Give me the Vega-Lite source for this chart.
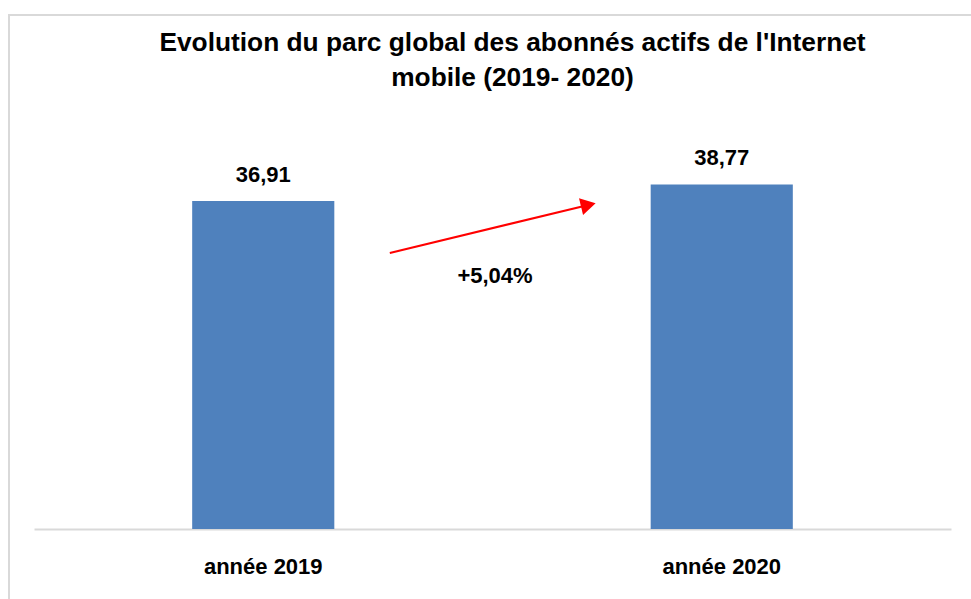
{
  "$schema": "https://vega.github.io/schema/vega-lite/v6.json",
  "width": 1007,
  "height": 600,
  "autosize": {"type": "none"},
  "padding": {"left": 9, "top": 15, "right": 0, "bottom": 0},
  "background": "white",
  "title": {
    "text": ["Evolution du parc global des abonnés actifs de l'Internet", "mobile (2019- 2020)"],
    "font": "Liberation Sans",
    "fontSize": 26.3,
    "fontWeight": "bold",
    "color": "#000000",
    "anchor": "middle",
    "frame": "group",
    "lineHeight": 35,
    "offset": -76
  },
  "datasets": {
    "bars": [
      {"annee": "année 2019", "valeur": 36.91, "label": "36,91"},
      {"annee": "année 2020", "valeur": 38.77, "label": "38,77"}
    ],
    "arrow": [
      {"x": 0.776, "y": 31.05},
      {"x": 1.209, "y": 36.46}
    ],
    "head": [
      {"x": 1.209, "y": 36.46}
    ],
    "note": [
      {"x": 1.0055, "y": 28.46, "texte": "+5,04%"}
    ]
  },
  "layer": [
    {
      "data": {"name": "bars"},
      "encoding": {
        "x": {
          "field": "annee",
          "type": "nominal",
          "sort": null,
          "title": null,
          "scale": {"range": [25, 942], "paddingInner": 0.69, "paddingOuter": 0.345},
          "axis": {
            "labelAngle": 0,
            "labelFont": "Liberation Sans",
            "labelFontSize": 22,
            "labelFontWeight": "bold",
            "labelColor": "#000000",
            "labelBaseline": "alphabetic",
            "labelPadding": 44,
            "labelLimit": 400,
            "ticks": false,
            "tickSize": 0,
            "domainColor": "#d9d9d9",
            "domainWidth": 2,
            "offset": -86,
            "grid": false
          }
        },
        "y": {
          "field": "valeur",
          "type": "quantitative",
          "scale": {"domain": [0, 45], "range": [514, 114]},
          "axis": null
        }
      },
      "layer": [
        {"mark": {"type": "bar", "color": "#4F81BD"}},
        {
          "mark": {
            "type": "text",
            "font": "Liberation Sans",
            "fontSize": 22,
            "fontWeight": "bold",
            "color": "#000000",
            "baseline": "alphabetic",
            "dy": -19
          },
          "encoding": {"text": {"field": "label", "type": "nominal"}}
        }
      ]
    },
    {
      "layer": [
        {
          "data": {"name": "arrow"},
          "mark": {"type": "line", "color": "#FF0000", "strokeWidth": 2},
          "encoding": {
            "x": {"field": "x", "type": "quantitative", "scale": {"domain": [0, 2], "range": [25, 942]}, "axis": null},
            "y": {"field": "y", "type": "quantitative"}
          }
        },
        {
          "data": {"name": "head"},
          "mark": {"type": "point", "shape": "triangle-right", "angle": -13.6, "size": 300, "filled": true, "color": "#FF0000", "opacity": 1},
          "encoding": {
            "x": {"field": "x", "type": "quantitative"},
            "y": {"field": "y", "type": "quantitative"}
          }
        },
        {
          "data": {"name": "note"},
          "mark": {
            "type": "text",
            "font": "Liberation Sans",
            "fontSize": 22,
            "fontWeight": "bold",
            "color": "#000000",
            "baseline": "middle"
          },
          "encoding": {
            "x": {"field": "x", "type": "quantitative"},
            "y": {"field": "y", "type": "quantitative"},
            "text": {"field": "texte", "type": "nominal"}
          }
        }
      ]
    }
  ],
  "resolve": {"scale": {"x": "independent"}},
  "config": {
    "view": {"stroke": "#d9d9d9", "strokeWidth": 2}
  }
}
